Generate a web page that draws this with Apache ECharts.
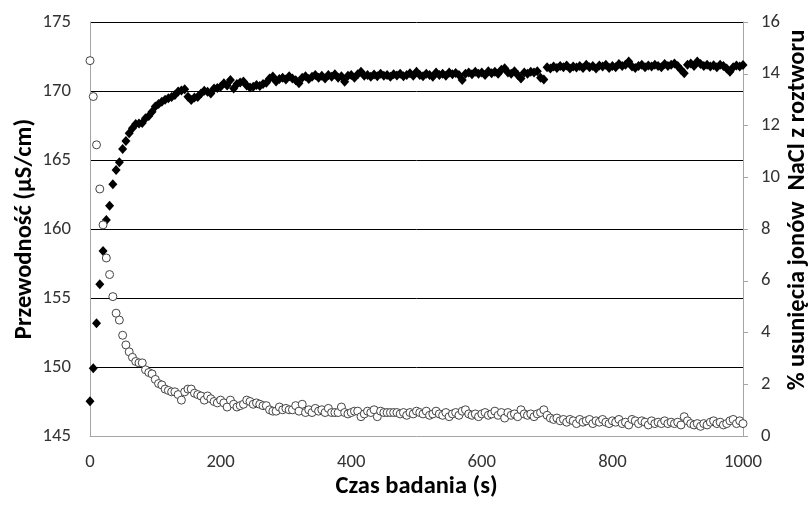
<!DOCTYPE html>
<html>
<head>
<meta charset="utf-8">
<script src="https://cdn.jsdelivr.net/npm/echarts@6/dist/echarts.min.js"></script>
<style>html,body{margin:0;padding:0;background:#fff}#c{width:811px;height:506px}</style>
</head>
<body>
<div id="c"></div>
<script>
const times = [
0,5,10,15,20,25,30,35,40,45,50,55,60,65,70,75,80,85,90,95,
100,105,110,115,120,125,130,135,140,145,150,155,160,165,170,175,180,185,190,195,
200,205,210,215,220,225,230,235,240,245,250,255,260,265,270,275,280,285,290,295,
300,305,310,315,320,325,330,335,340,345,350,355,360,365,370,375,380,385,390,395,
400,405,410,415,420,425,430,435,440,445,450,455,460,465,470,475,480,485,490,495,
500,505,510,515,520,525,530,535,540,545,550,555,560,565,570,575,580,585,590,595,
600,605,610,615,620,625,630,635,640,645,650,655,660,665,670,675,680,685,690,695,
700,705,710,715,720,725,730,735,740,745,750,755,760,765,770,775,780,785,790,795,
800,805,810,815,820,825,830,835,840,845,850,855,860,865,870,875,880,885,890,895,
900,905,910,915,920,925,930,935,940,945,950,955,960,965,970,975,980,985,990,995,
1000];

const conductivity = [
172.2,169.6,166.1,162.9,160.3,157.9,156.7,155.1,153.9,153.4,152.3,151.6,151.1,150.7,150.4,150.3,150.3,149.8,149.6,149.5,
149.1,148.8,148.7,148.4,148.3,148.2,148.2,148.0,147.6,148.2,148.4,148.4,148.1,148.0,147.9,147.6,147.9,147.7,147.5,147.4,
147.6,147.4,147.1,147.6,147.3,147.1,147.2,147.3,147.6,147.5,147.3,147.4,147.3,147.2,147.2,146.9,146.8,146.8,147.1,146.9,
147.0,146.9,146.9,147.2,146.8,147.3,146.7,146.9,146.7,147.0,146.8,146.9,146.7,147.0,146.7,146.7,146.7,147.1,146.7,146.6,
146.7,146.8,146.8,146.4,146.6,146.8,146.7,146.9,146.4,146.8,146.7,146.7,146.7,146.7,146.7,146.6,146.7,146.5,146.7,146.6,
146.8,146.7,146.6,146.8,146.5,146.6,146.8,146.6,146.5,146.7,146.4,146.6,146.7,146.5,146.8,146.9,146.6,146.5,146.6,146.4,
146.6,146.7,146.5,146.6,146.8,146.5,146.7,146.3,146.7,146.5,146.6,146.4,146.9,146.6,146.5,146.6,146.4,146.6,146.7,146.9,
146.5,146.3,146.2,146.3,146.1,146.2,146.0,146.2,146.1,145.9,146.2,146.0,146.1,146.2,145.9,146.1,146.0,146.2,146.0,145.9,
146.1,146.0,146.2,145.9,146.0,145.8,146.2,146.1,145.9,146.1,146.0,145.8,146.1,145.9,146.0,145.9,146.1,145.9,146.0,145.9,
146.0,145.8,146.4,146.1,145.9,145.8,145.9,145.7,145.9,145.8,146.0,146.1,145.9,146.0,145.8,145.9,146.1,146.2,145.9,146.1,
145.9];

const removal = [
1.34,2.62,4.36,5.86,7.15,8.35,8.9,9.73,10.28,10.58,11.09,11.4,11.7,11.89,12.06,12.08,12.1,12.28,12.37,12.53,
12.73,12.83,12.92,13.0,13.05,13.1,13.18,13.31,13.35,13.4,13.11,12.99,13.08,13.1,13.24,13.34,13.3,13.24,13.43,13.45,
13.5,13.63,13.55,13.76,13.43,13.6,13.66,13.7,13.55,13.47,13.5,13.57,13.53,13.6,13.65,13.82,13.89,13.7,13.8,13.85,
13.78,13.9,13.82,13.75,13.63,13.85,13.9,13.8,13.88,13.95,13.85,13.92,13.82,13.95,13.88,13.98,13.85,13.9,13.69,13.92,
13.95,13.85,13.98,14.08,13.92,13.95,13.88,13.97,13.9,14.0,13.92,13.95,13.88,13.98,13.93,14.0,13.9,13.95,14.02,13.92,
14.08,13.95,13.9,14.0,13.95,13.88,14.05,13.95,14.0,13.92,14.05,13.98,14.03,13.95,13.76,14.0,14.05,13.98,14.08,14.0,
14.05,13.95,14.1,14.02,14.08,14.0,14.15,14.21,14.05,14.0,14.1,13.95,13.82,14.05,14.0,14.08,14.05,14.1,13.85,13.78,
14.25,14.2,14.28,14.22,14.3,14.25,14.32,14.2,14.28,14.24,14.3,14.22,14.35,14.25,14.3,14.2,14.32,14.28,14.35,14.22,
14.3,14.25,14.38,14.3,14.35,14.47,14.28,14.22,14.3,14.35,14.25,14.32,14.28,14.35,14.3,14.25,14.38,14.3,14.35,14.4,
14.3,14.15,14.02,14.35,14.4,14.3,14.47,14.38,14.3,14.35,14.28,14.33,14.25,14.35,14.3,14.2,14.08,14.25,14.32,14.28,
14.34];

const xTitle = 'Czas badania (s)';
const leftTitle = 'Przewodność (µS/cm)';
const rightTitle = '% usunięcia jonów  NaCl z roztworu';

const FONT = 'Carlito, Lato, sans-serif';
const labelStyle = { fontFamily: FONT, fontSize: 18.7, color: '#333' };
const nameStyle = { fontFamily: FONT, fontSize: 24.5, fontWeight: 'bold', color: '#000' };
const greyAxis = { show: true, lineStyle: { color: '#a6a6a6', width: 1 } };

const chart = echarts.init(document.getElementById('c'), null, { renderer: 'canvas' });
chart.setOption({
  animation: false,
  backgroundColor: '#fff',
  grid: { left: 90, right: 68, top: 22, bottom: 70, containLabel: false, outerBoundsMode: 'none' },
  xAxis: {
    type: 'value', min: 0, max: 1000, interval: 200,
    axisLine: greyAxis, axisTick: { show: false },
    splitLine: { show: false },
    axisLabel: Object.assign({ margin: 17, formatter: v => String(v) }, labelStyle),
    name: xTitle, nameLocation: 'middle', nameGap: 38, nameMoveOverlap: false, nameTextStyle: nameStyle
  },
  yAxis: [
    {
      type: 'value', min: 145, max: 175, interval: 5, position: 'left',
      axisLine: greyAxis, axisTick: { show: false },
      splitLine: { show: true, showMinLine: false, lineStyle: { color: '#000', width: 1 } },
      axisLabel: Object.assign({ margin: 19 }, labelStyle),
      name: leftTitle, nameLocation: 'middle', nameGap: 53, nameRotate: 90, nameMoveOverlap: false,
      nameTextStyle: nameStyle
    },
    {
      type: 'value', min: 0, max: 16, interval: 2, position: 'right',
      axisLine: greyAxis,
      axisTick: { show: true, inside: false, length: 5, lineStyle: { color: '#a6a6a6' } },
      splitLine: { show: false },
      axisLabel: Object.assign({ margin: 18 }, labelStyle),
      name: rightTitle, nameLocation: 'middle', nameGap: 42, nameRotate: 90, nameMoveOverlap: false,
      nameTextStyle: Object.assign({ padding: [0, 0, 0, 38] }, nameStyle)
    }
  ],
  series: [
    {
      type: 'scatter', yAxisIndex: 1,
      data: times.map((t, i) => [t, removal[i]]),
      symbol: 'diamond', symbolSize: [9, 10],
      itemStyle: { color: '#000', opacity: 1 }
    },
    {
      type: 'scatter', yAxisIndex: 0,
      data: times.map((t, i) => [t, conductivity[i]]),
      symbol: 'circle', symbolSize: 8,
      itemStyle: { color: '#fff', borderColor: '#444', borderWidth: 1, opacity: 1 }
    }
  ]
});
</script>
</body>
</html>
